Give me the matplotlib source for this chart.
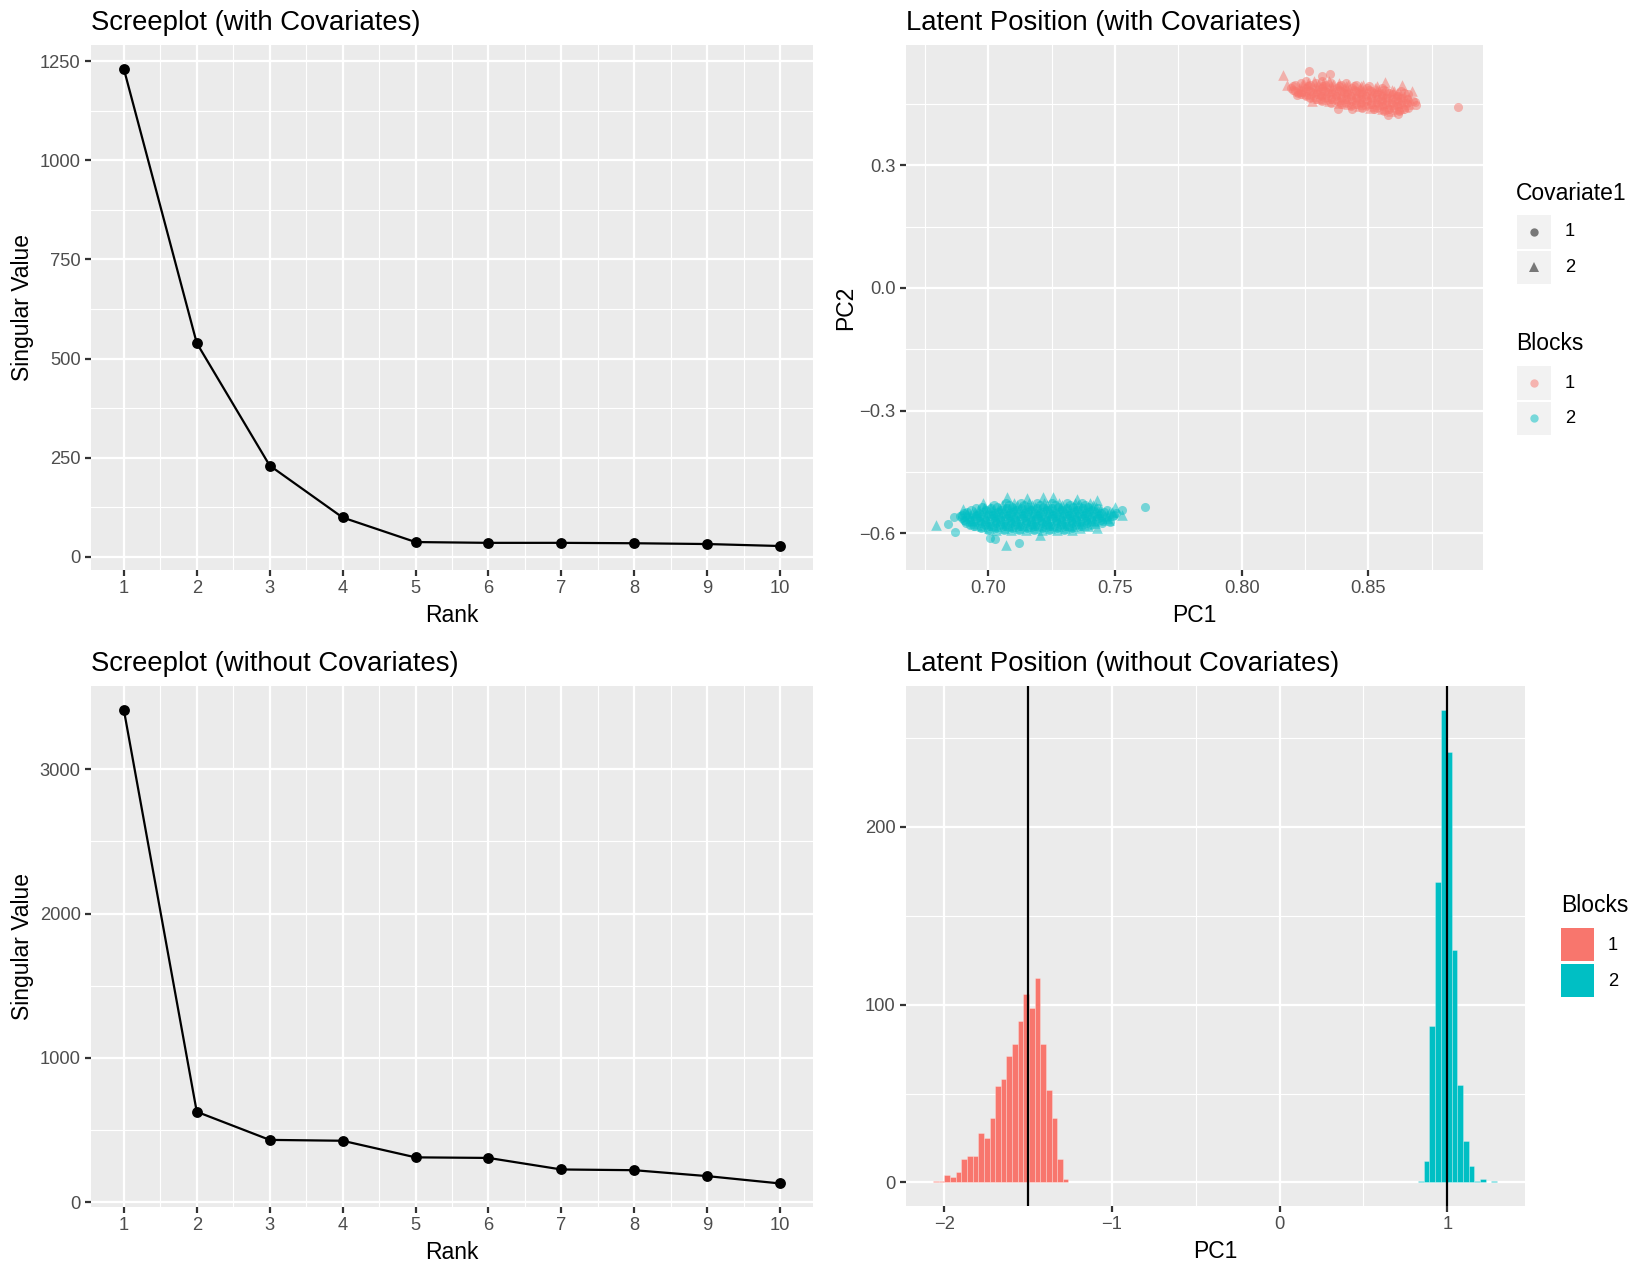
import numpy as np
import matplotlib.pyplot as plt
from matplotlib.patches import Rectangle
from matplotlib.lines import Line2D

plt.rcParams['font.family'] = ['Liberation Sans', 'DejaVu Sans']

W, H = 1650, 1275
RED = '#F8766D'
CYAN = '#00BFC4'

# ---- screeplots ----
ranks = [1, 2, 3, 4, 5, 6, 7, 8, 9, 10]
sv_with_cov = [1231, 539, 230, 99, 37, 35, 35, 34, 32, 27]
sv_without_cov = [3413, 627, 432, 426, 311, 307, 227, 222, 181, 130]

# ---- latent positions with covariates (PC1, PC2) ----
# dense cores, read row by row: (PC2, [PC1 ...])
red_core_rows = [
    (0.505, [0.8255, 0.8285, 0.8315, 0.8345]),
    (0.501, [0.8232, 0.8262, 0.8292, 0.8322, 0.8352, 0.8382, 0.8412]),
    (0.497, [0.821, 0.824, 0.827, 0.830, 0.833, 0.836, 0.839, 0.842, 0.845, 0.848]),
    (0.493, [0.8202, 0.8232, 0.8262, 0.8292, 0.8322, 0.8352, 0.8382, 0.8412, 0.8442, 0.8472,
             0.8502, 0.8532]),
    (0.489, [0.8195, 0.8225, 0.8255, 0.8285, 0.8315, 0.8345, 0.8375, 0.8405, 0.8435, 0.8465,
             0.8495, 0.8525, 0.8555]),
    (0.485, [0.8202, 0.8232, 0.8262, 0.8292, 0.8322, 0.8352, 0.8382, 0.8412, 0.8442, 0.8472,
             0.8502, 0.8532, 0.8562, 0.8592]),
    (0.481, [0.821, 0.824, 0.827, 0.830, 0.833, 0.836, 0.839, 0.842, 0.845, 0.848, 0.851, 0.854,
             0.857, 0.860, 0.863]),
    (0.477, [0.8222, 0.8252, 0.8282, 0.8312, 0.8342, 0.8372, 0.8402, 0.8432, 0.8462, 0.8492,
             0.8522, 0.8552, 0.8582, 0.8612, 0.8642]),
    (0.473, [0.8235, 0.8265, 0.8295, 0.8325, 0.8355, 0.8385, 0.8415, 0.8445, 0.8475, 0.8505,
             0.8535, 0.8565, 0.8595, 0.8625, 0.8655]),
    (0.469, [0.8252, 0.8282, 0.8312, 0.8342, 0.8372, 0.8402, 0.8432, 0.8462, 0.8492, 0.8522,
             0.8552, 0.8582, 0.8612, 0.8642]),
    (0.465, [0.827, 0.830, 0.833, 0.836, 0.839, 0.842, 0.845, 0.848, 0.851, 0.854, 0.857, 0.860,
             0.863, 0.866]),
    (0.461, [0.8292, 0.8322, 0.8352, 0.8382, 0.8412, 0.8442, 0.8472, 0.8502, 0.8532, 0.8562,
             0.8592, 0.8622, 0.8652]),
    (0.457, [0.8315, 0.8345, 0.8375, 0.8405, 0.8435, 0.8465, 0.8495, 0.8525, 0.8555, 0.8585,
             0.8615, 0.8645, 0.8675]),
    (0.453, [0.8352, 0.8382, 0.8412, 0.8442, 0.8472, 0.8502, 0.8532, 0.8562, 0.8592, 0.8622,
             0.8652]),
    (0.449, [0.839, 0.842, 0.845, 0.848, 0.851, 0.854, 0.857, 0.860, 0.863, 0.866]),
    (0.445, [0.8432, 0.8462, 0.8492, 0.8522, 0.8552, 0.8582, 0.8612, 0.8642]),
    (0.441, [0.8475, 0.8505, 0.8535, 0.8565, 0.8595, 0.8625, 0.8655]),
    (0.437, [0.8522, 0.8552, 0.8582, 0.8612, 0.8642]),
    (0.433, [0.856, 0.859, 0.862]),
]
red_extra_x = [0.8164, 0.8267, 0.8349, 0.8177, 0.8566, 0.8632, 0.8670, 0.8684, 0.8689, 0.8276,
               0.8380, 0.8434, 0.8579, 0.8618, 0.8853, 0.8217, 0.8224, 0.8316]
red_extra_y = [0.5208, 0.5300, 0.5233, 0.4950, 0.5030, 0.4970, 0.4826, 0.4540, 0.4470, 0.4580,
               0.4378, 0.4378, 0.4230, 0.4250, 0.4419, 0.4710, 0.4806, 0.5170]
red_extra_shape = ['^', 'o', 'o', '^', '^', '^', '^', 'o', 'o', '^',
                   'o', 'o', 'o', 'o', 'o', 'o', '^', 'o']

cyan_core_rows = [
    (-0.527, [0.707, 0.710, 0.713, 0.716, 0.719, 0.722, 0.725, 0.728, 0.731, 0.734, 0.737, 0.740]),
    (-0.531, [0.7022, 0.7052, 0.7082, 0.7112, 0.7142, 0.7172, 0.7202, 0.7232, 0.7262, 0.7292,
              0.7322, 0.7352, 0.7382, 0.7412]),
    (-0.535, [0.6975, 0.7005, 0.7035, 0.7065, 0.7095, 0.7125, 0.7155, 0.7185, 0.7215, 0.7245,
              0.7275, 0.7305, 0.7335, 0.7365, 0.7395, 0.7425]),
    (-0.539, [0.6952, 0.6982, 0.7012, 0.7042, 0.7072, 0.7102, 0.7132, 0.7162, 0.7192, 0.7222,
              0.7252, 0.7282, 0.7312, 0.7342, 0.7372, 0.7402, 0.7432]),
    (-0.543, [0.693, 0.696, 0.699, 0.702, 0.705, 0.708, 0.711, 0.714, 0.717, 0.720, 0.723, 0.726,
              0.729, 0.732, 0.735, 0.738, 0.741, 0.744, 0.747]),
    (-0.547, [0.6917, 0.6947, 0.6977, 0.7007, 0.7037, 0.7067, 0.7097, 0.7127, 0.7157, 0.7187,
              0.7217, 0.7247, 0.7277, 0.7307, 0.7337, 0.7367, 0.7397, 0.7427, 0.7457, 0.7487]),
    (-0.551, [0.6905, 0.6935, 0.6965, 0.6995, 0.7025, 0.7055, 0.7085, 0.7115, 0.7145, 0.7175,
              0.7205, 0.7235, 0.7265, 0.7295, 0.7325, 0.7355, 0.7385, 0.7415, 0.7445, 0.7475,
              0.7505]),
    (-0.555, [0.6897, 0.6927, 0.6957, 0.6987, 0.7017, 0.7047, 0.7077, 0.7107, 0.7137, 0.7167,
              0.7197, 0.7227, 0.7257, 0.7287, 0.7317, 0.7347, 0.7377, 0.7407, 0.7437, 0.7467,
              0.7497]),
    (-0.559, [0.689, 0.692, 0.695, 0.698, 0.701, 0.704, 0.707, 0.710, 0.713, 0.716, 0.719, 0.722,
              0.725, 0.728, 0.731, 0.734, 0.737, 0.740, 0.743, 0.746, 0.749]),
    (-0.563, [0.6897, 0.6927, 0.6957, 0.6987, 0.7017, 0.7047, 0.7077, 0.7107, 0.7137, 0.7167,
              0.7197, 0.7227, 0.7257, 0.7287, 0.7317, 0.7347, 0.7377, 0.7407, 0.7437, 0.7467]),
    (-0.567, [0.6905, 0.6935, 0.6965, 0.6995, 0.7025, 0.7055, 0.7085, 0.7115, 0.7145, 0.7175,
              0.7205, 0.7235, 0.7265, 0.7295, 0.7325, 0.7355, 0.7385, 0.7415, 0.7445, 0.7475]),
    (-0.571, [0.6907, 0.6937, 0.6967, 0.6997, 0.7027, 0.7057, 0.7087, 0.7117, 0.7147, 0.7177,
              0.7207, 0.7237, 0.7267, 0.7297, 0.7327, 0.7357, 0.7387, 0.7417, 0.7447]),
    (-0.575, [0.691, 0.694, 0.697, 0.700, 0.703, 0.706, 0.709, 0.712, 0.715, 0.718, 0.721, 0.724,
              0.727, 0.730, 0.733, 0.736, 0.739, 0.742, 0.745]),
    (-0.579, [0.6927, 0.6957, 0.6987, 0.7017, 0.7047, 0.7077, 0.7107, 0.7137, 0.7167, 0.7197,
              0.7227, 0.7257, 0.7287, 0.7317, 0.7347, 0.7377, 0.7407]),
    (-0.583, [0.6945, 0.6975, 0.7005, 0.7035, 0.7065, 0.7095, 0.7125, 0.7155, 0.7185, 0.7215,
              0.7245, 0.7275, 0.7305, 0.7335, 0.7365, 0.7395]),
    (-0.587, [0.6972, 0.7002, 0.7032, 0.7062, 0.7092, 0.7122, 0.7152, 0.7182, 0.7212, 0.7242,
              0.7272, 0.7302, 0.7332, 0.7362]),
    (-0.591, [0.700, 0.703, 0.706, 0.709, 0.712, 0.715, 0.718, 0.721, 0.724, 0.727, 0.730, 0.733]),
]
cyan_extra_x = [0.6793, 0.6842, 0.6864, 0.6868, 0.6901, 0.6914, 0.6980, 0.7072, 0.7151, 0.7217,
                0.7257, 0.7349, 0.7428, 0.7500, 0.7526, 0.7526, 0.7620, 0.7070, 0.7122, 0.7007,
                0.7026, 0.7204, 0.7428, 0.7480]
cyan_extra_y = [-0.5797, -0.5780, -0.5593, -0.5959, -0.5414, -0.5510, -0.5250, -0.5120, -0.5145,
                -0.5105, -0.5120, -0.5170, -0.5200, -0.5350, -0.5430, -0.5550, -0.5350, -0.6285,
                -0.6228, -0.6120, -0.6147, -0.6040, -0.5880, -0.5715]
cyan_extra_shape = ['^', 'o', 'o', 'o', '^', '^', '^', '^', '^', '^',
                    '^', '^', '^', '^', 'o', '^', 'o', '^', 'o', 'o',
                    'o', '^', '^', 'o']

# ---- latent positions without covariates (histogram of PC1, 100 bins) ----
bin_width = 0.0336
red_first_edge = -2.066
cyan_first_edge = 0.825
red_counts = [1, 1, 4, 3, 6, 13, 15, 15, 28, 25, 36, 54, 58, 71, 78, 91, 106, 98, 115, 78, 52, 36, 13, 2]
cyan_counts = [1, 12, 88, 169, 266, 242, 131, 55, 23, 9, 1, 2, 0, 1]
vline_positions = [-1.5, 1.0]

# tick labels
scree_x_labels = ['1', '2', '3', '4', '5', '6', '7', '8', '9', '10']
scree1_y_ticks = [0, 250, 500, 750, 1000, 1250]
scree2_y_ticks = [0, 1000, 2000, 3000]
pc1_ticks = [0.70, 0.75, 0.80, 0.85]
pc1_labels = ['0.70', '0.75', '0.80', '0.85']
pc2_ticks = [-0.6, -0.3, 0.0, 0.3]
pc2_labels = ['\u22120.6', '\u22120.3', '0.0', '0.3']
hist_x_ticks = [-2, -1, 0, 1]
hist_x_labels = ['\u22122', '\u22121', '0', '1']
hist_y_ticks = [0, 100, 200]


def rect(l, t, r, b):
    return [l / W, 1 - b / H, (r - l) / W, (b - t) / H]


def gg_style(ax, xmaj, xminor, ymaj, yminor, xlabels=None, ylabels=None):
    ax.set_facecolor('#EBEBEB')
    for s in ax.spines.values():
        s.set_visible(False)
    ax.set_xticks(xmaj)
    ax.set_xticks(xminor, minor=True)
    ax.set_yticks(ymaj)
    ax.set_yticks(yminor, minor=True)
    if xlabels is not None:
        ax.set_xticklabels(xlabels)
    if ylabels is not None:
        ax.set_yticklabels(ylabels)
    ax.set_axisbelow(True)
    ax.grid(which='major', color='white', lw=1.07)
    ax.grid(which='minor', color='white', lw=0.53)
    ax.tick_params(which='major', length=2.75, width=1.07, color='#333333',
                   labelcolor='#4D4D4D', labelsize=8.8, pad=2.2)
    ax.tick_params(which='minor', length=0)


fig = plt.figure(figsize=(11, 8.5), dpi=150)
fig.patch.set_facecolor('white')

# top left: screeplot with covariates
ax1 = fig.add_axes(rect(91, 45, 813, 570))
ax1.plot(ranks, sv_with_cov, color='black', lw=1.07)
ax1.plot(ranks, sv_with_cov, 'o', color='black', ms=4.2)
ax1.set_xlim(0.55, 10.45)
ax1.set_ylim(-33.5, 1291)
gg_style(ax1, ranks, [r + 0.5 for r in ranks[:-1]], scree1_y_ticks,
         [v + 125 for v in scree1_y_ticks[:-1]], scree_x_labels)
ax1.set_xlabel('Rank', fontsize=11, labelpad=3)
ax1.set_ylabel('Singular Value', fontsize=11, labelpad=3)
ax1.set_title('Screeplot (with Covariates)', loc='left', fontsize=13.2, pad=7)

# bottom left: screeplot without covariates
ax3 = fig.add_axes(rect(91, 686, 813, 1207))
ax3.plot(ranks, sv_without_cov, color='black', lw=1.07)
ax3.plot(ranks, sv_without_cov, 'o', color='black', ms=4.2)
ax3.set_xlim(0.55, 10.45)
ax3.set_ylim(-33, 3577)
gg_style(ax3, ranks, [r + 0.5 for r in ranks[:-1]], scree2_y_ticks,
         [v + 500 for v in scree2_y_ticks[:-1]], scree_x_labels)
ax3.set_xlabel('Rank', fontsize=11, labelpad=3)
ax3.set_ylabel('Singular Value', fontsize=11, labelpad=3)
ax3.set_title('Screeplot (without Covariates)', loc='left', fontsize=13.2, pad=7)

# top right: latent positions with covariates
ax2 = fig.add_axes(rect(906, 45, 1483, 570))
for rows, ex, ey, es, col in [(red_core_rows, red_extra_x, red_extra_y, red_extra_shape, RED),
                              (cyan_core_rows, cyan_extra_x, cyan_extra_y, cyan_extra_shape, CYAN)]:
    xs, ys, shapes = [], [], []
    for y, row in rows:
        for i, x in enumerate(row):
            xs.append(x)
            ys.append(y)
            shapes.append('^' if i % 2 else 'o')
    xs += ex
    ys += ey
    shapes += es
    xs, ys, shapes = np.array(xs), np.array(ys), np.array(shapes)
    for mk, size in (('o', 19), ('^', 26)):
        m = shapes == mk
        ax2.scatter(xs[m], ys[m], s=size, marker=mk, color=col, alpha=0.5, linewidths=0)
ax2.set_xlim(0.6675, 0.8952)
ax2.set_ylim(-0.690, 0.594)
gg_style(ax2, pc1_ticks, [0.675, 0.725, 0.775, 0.825, 0.875], pc2_ticks,
         [-0.45, -0.15, 0.15, 0.45], pc1_labels, pc2_labels)
ax2.set_xlabel('PC1', fontsize=11, labelpad=3)
ax2.set_ylabel('PC2', fontsize=11, labelpad=1)
ax2.set_title('Latent Position (with Covariates)', loc='left', fontsize=13.2, pad=7)

# bottom right: histogram of PC1
ax4 = fig.add_axes(rect(906, 686, 1525, 1206))
red_edges = [red_first_edge + i * bin_width for i in range(len(red_counts))]
cyan_edges = [cyan_first_edge + i * bin_width for i in range(len(cyan_counts))]
ax4.bar(red_edges, red_counts, width=bin_width, align='edge', color=RED,
        edgecolor=(1, 1, 1, 0.3), linewidth=0.4)
ax4.bar(cyan_edges, cyan_counts, width=bin_width, align='edge', color=CYAN,
        edgecolor=(1, 1, 1, 0.3), linewidth=0.4)
for v in vline_positions:
    ax4.axvline(v, color='black', lw=1.07)
ax4.set_xlim(-2.228, 1.463)
ax4.set_ylim(-13.3, 279.3)
gg_style(ax4, hist_x_ticks, [-1.5, -0.5, 0.5], hist_y_ticks, [50, 150, 250], hist_x_labels)
ax4.set_xlabel('PC1', fontsize=11, labelpad=3)
ax4.set_title('Latent Position (without Covariates)', loc='left', fontsize=13.2, pad=7)


# ---- legends (drawn in figure pixel coordinates) ----
def ftext(x, y, s, size):
    fig.text(x / W, 1 - y / H, s, fontsize=size, ha='left', va='center')


def fbox(x0, y0, w, h, color):
    fig.patches.append(Rectangle((x0 / W, 1 - (y0 + h) / H), w / W, h / H,
                                 transform=fig.transFigure, facecolor=color,
                                 edgecolor='none'))


def fmark(cx, cy, marker, color, ms):
    fig.add_artist(Line2D([cx / W], [1 - cy / H], transform=fig.transFigure, marker=marker,
                          ms=ms, color=color, alpha=0.5, linestyle='none', markeredgewidth=0))


ftext(1516, 194, 'Covariate1', 11)
for k, (lab, mk, ms) in enumerate([('1', 'o', 4.0), ('2', '^', 4.8)]):
    top = 215 + k * 35.5
    fbox(1517, top, 34, 33.5, '#F2F2F2')
    fmark(1534, top + 16.5, mk, 'black', ms)
    ftext(1565, top + 17, lab, 8.8)

ftext(1516, 343, 'Blocks', 11)
for k, (lab, col) in enumerate([('1', RED), ('2', CYAN)]):
    top = 366 + k * 35.5
    fbox(1517, top, 34, 33.5, '#F2F2F2')
    fmark(1534, top + 16.5, 'o', col, 4.0)
    ftext(1565, top + 17, lab, 8.8)

ftext(1561, 905, 'Blocks', 11)
for k, (lab, col) in enumerate([('1', RED), ('2', CYAN)]):
    top = 928 + k * 36
    fbox(1561, top, 33, 33, col)
    ftext(1608, top + 17, lab, 8.8)

fig.savefig('out.png', dpi=150)
